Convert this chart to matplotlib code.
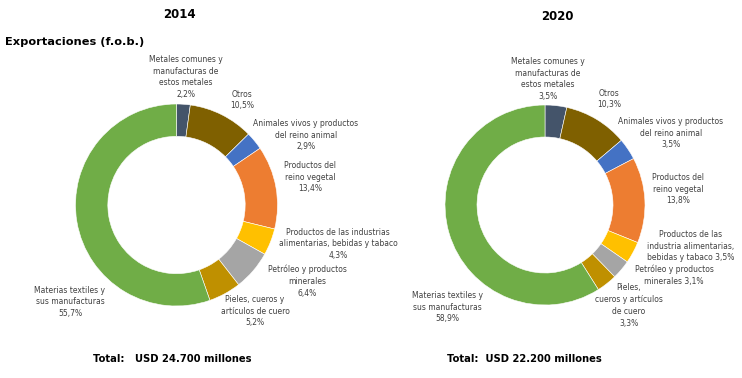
import matplotlib
matplotlib.use("Agg")
import matplotlib.pyplot as plt

# Data
colors = ['#44546A', '#7F6000', '#4472C4', '#ED7D31', '#FFC000', '#A5A5A5', '#BF9000', '#70AD47']

values_2014 = [2.2, 10.5, 2.9, 13.4, 4.3, 6.4, 5.2, 55.7]
values_2020 = [3.5, 10.3, 3.5, 13.8, 3.5, 3.1, 3.3, 58.9]

labels_2014 = [
    "Metales comunes y\nmanufacturas de\nestos metales\n{}",
    "Otros\n{}",
    "Animales vivos y productos\ndel reino animal\n{}",
    "Productos del\nreino vegetal\n{}",
    "Productos de las industrias\nalimentarias, bebidas y tabaco\n{}",
    "Petróleo y productos\nminerales\n{}",
    "Pieles, cueros y\nartículos de cuero\n{}",
    "Materias textiles y\nsus manufacturas\n{}",
]
labels_2020 = [
    "Metales comunes y\nmanufacturas de\nestos metales\n{}",
    "Otros\n{}",
    "Animales vivos y productos\ndel reino animal\n{}",
    "Productos del\nreino vegetal\n{}",
    "Productos de las\nindustria alimentarias,\nbebidas y tabaco {}",
    "Petróleo y productos\nminerales {}",
    "Pieles,\ncueros y artículos\nde cuero\n{}",
    "Materias textiles y\nsus manufacturas\n{}",
]

total_2014 = "Total:   USD 24.700 millones"
total_2020 = "Total:  USD 22.200 millones"

W, H = 742, 378

# label anchor positions (pixels, from top-left)
pos_2014 = [(186, 77), (242, 100), (306, 135), (310, 177), (338, 244),
            (307, 281), (255, 311), (70, 302)]
pos_2020 = [(548, 79), (609, 99), (671, 133), (678, 189), (691, 246),
            (674, 275.5), (629, 305.5), (447, 307)]


def fmt(v):
    return f"{v:.1f}".replace('.', ',') + '%'


fig = plt.figure(figsize=(W / 100, H / 100), dpi=100)


def px(x, y):
    return x / W, 1 - y / H


def donut(cx, cy, r, values, labels, positions):
    ax = fig.add_axes([(cx - r) / W, (H - cy - r) / H, 2 * r / W, 2 * r / H])
    ax.pie(values, colors=colors, startangle=90, counterclock=False,
           radius=1, wedgeprops=dict(width=0.32, edgecolor='white', linewidth=0.4))
    ax.set_xlim(-1, 1)
    ax.set_ylim(-1, 1)
    ax.axis('off')
    for lab, v, (x, y) in zip(labels, values, positions):
        fig.text(*px(x, y), lab.format(fmt(v)), ha='center', va='center',
                 fontsize=5.5, color='#404040', linespacing=1.42)


donut(176.5, 205, 101, values_2014, labels_2014, pos_2014)
donut(545, 205, 100, values_2020, labels_2020, pos_2020)

fig.text(*px(179, 15), "2014", ha='center', va='center', fontsize=8.5, fontweight='bold')
fig.text(*px(557, 17), "2020", ha='center', va='center', fontsize=8.5, fontweight='bold')
fig.text(*px(5, 42), "Exportaciones (f.o.b.)", ha='left', va='center', fontsize=8.2, fontweight='bold')
fig.text(*px(172, 359), total_2014, ha='center', va='center', fontsize=7.2, fontweight='bold')
fig.text(*px(524, 359), total_2020, ha='center', va='center', fontsize=7.2, fontweight='bold')

fig.savefig("out.png", dpi=100)
